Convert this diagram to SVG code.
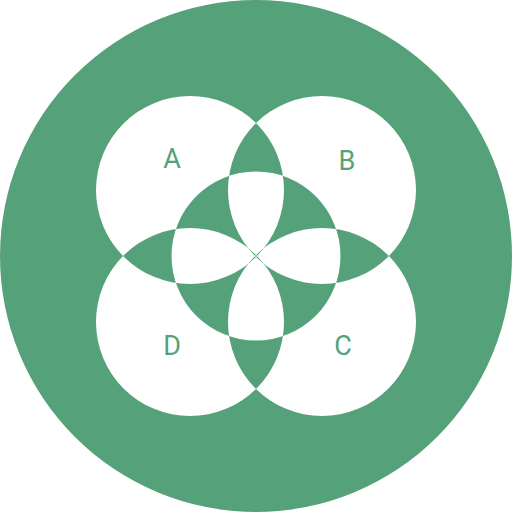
<svg xmlns="http://www.w3.org/2000/svg" width="512" height="512" viewBox="0 0 512 512">
<style>
.bg{fill:#55a27a}
.venn{fill:#ffffff;fill-rule:evenodd}
.lbl{font-family:Roboto,"Liberation Sans",sans-serif;font-size:27px;fill:#55a27a;text-anchor:middle}
</style>
<circle id="background" class="bg" cx="256" cy="256" r="256"/>
<g id="venn">
<path class="venn" d="M96,190a94,94 0 1,0 188,0a94,94 0 1,0 -188,0Z M228,190a94,94 0 1,0 188,0a94,94 0 1,0 -188,0Z M228,322a94,94 0 1,0 188,0a94,94 0 1,0 -188,0Z M96,322a94,94 0 1,0 188,0a94,94 0 1,0 -188,0Z M171.5,256a84.5,84.5 0 1,0 169,0a84.5,84.5 0 1,0 -169,0Z"/>
</g>
<g id="A"><text class="lbl" x="172" y="167.5">A</text></g>
<g id="B"><text class="lbl" x="347" y="169.5">B</text></g>
<g id="C"><text class="lbl" x="343" y="354.5">C</text></g>
<g id="D"><text class="lbl" x="172" y="354.5">D</text></g>
</svg>
